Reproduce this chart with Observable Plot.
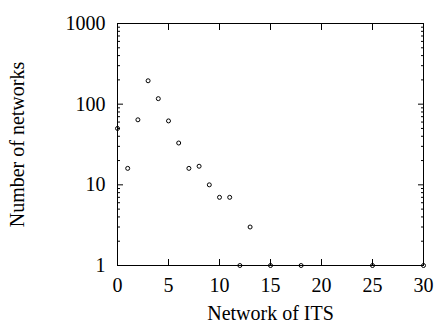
<!DOCTYPE html>
<html>
<head>
<meta charset="utf-8">
<script src="https://cdn.jsdelivr.net/npm/d3@7"></script>
<script src="https://cdn.jsdelivr.net/npm/@observablehq/plot@0.6"></script>
<style>
  html, body { margin: 0; padding: 0; background: #fff; }
  #chart svg { display: block; }
</style>
</head>
<body>
<div id="chart"></div>
<script>
const its = [0, 1, 2, 3, 4, 5, 6, 7, 8, 9, 10, 11, 12, 13, 15, 18, 25, 30];
const networks = [50, 16, 64, 195, 117, 62, 33, 16, 17, 10, 7, 7, 1, 3, 1, 1, 1, 1];
const xTicks = [0, 5, 10, 15, 20, 25, 30];
const yTicks = [1, 10, 100, 1000];
const yMinor = [2,3,4,5,6,7,8,9,20,30,40,50,60,70,80,90,200,300,400,500,600,700,800,900];

const data = its.map((x, i) => ({x, y: networks[i]}));
const blank = () => "";

const chart = Plot.plot({
  width: 438,
  height: 327,
  marginLeft: 117,
  marginRight: 15,
  marginTop: 23,
  marginBottom: 62,
  style: {fontFamily: "'Liberation Serif', 'Times New Roman', serif", fontSize: "20px", color: "#000", background: "#fff"},
  x: {domain: [0, 30]},
  y: {type: "log", domain: [1, 1000]},
  marks: [
    Plot.frame({stroke: "#000", strokeWidth: 1}),
    // labels
    Plot.axisX(xTicks, {tickSize: 0, tickPadding: 12, tickFormat: d => String(d), fontSize: 20, label: "Network of ITS", labelAnchor: "center", labelArrow: "none", labelOffset: 54}),
    Plot.axisY(yTicks, {tickSize: 0, tickPadding: 12, tickFormat: d => String(d), fontSize: 20, label: "Number of networks", labelAnchor: "center", labelArrow: "none", labelOffset: 108}),
    // inward major ticks
    Plot.axisX(xTicks, {anchor: "bottom", tickSize: -6, tickFormat: blank, label: null}),
    Plot.axisX(xTicks, {anchor: "top", tickSize: -6, tickFormat: blank, label: null}),
    Plot.axisY(yTicks, {anchor: "left", tickSize: -6, tickFormat: blank, label: null}),
    Plot.axisY(yTicks, {anchor: "right", tickSize: -6, tickFormat: blank, label: null}),
    // inward minor ticks
    Plot.axisY(yMinor, {anchor: "left", tickSize: -3, tickFormat: blank, label: null}),
    Plot.axisY(yMinor, {anchor: "right", tickSize: -3, tickFormat: blank, label: null}),
    Plot.dot(data, {x: "x", y: "y", r: 2, stroke: "#000", strokeWidth: 1, fill: "none"})
  ]
});
document.getElementById("chart").appendChild(chart);
</script>
</body>
</html>
